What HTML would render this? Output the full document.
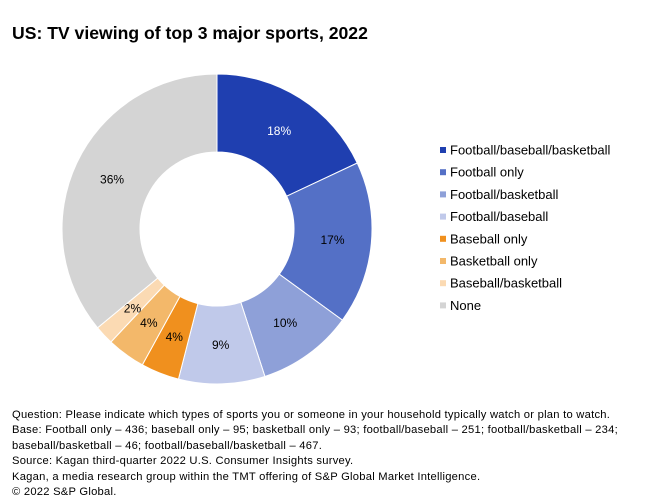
<!DOCTYPE html>
<html><head><meta charset="utf-8"><style>
body{margin:0;background:#fff;font-family:"Liberation Sans",sans-serif;}
#wrap{position:relative;width:660px;height:500px;overflow:hidden;}
.title{position:absolute;left:12px;top:23px;font-size:17.6px;font-weight:bold;color:#000;}
.foot{position:absolute;left:12px;top:408px;font-size:11.2px;letter-spacing:0.25px;line-height:15.4px;color:#000;white-space:nowrap;}
</style></head><body>
<div id="wrap">
<div class="title">US: TV viewing of top 3 major sports, 2022</div>
<svg id="svg" width="660" height="500" style="position:absolute;left:0;top:0"></svg>
<div class="foot">Question: Please indicate which types of sports you or someone in your household typically watch or plan to watch.<br>Base: Football only – 436; baseball only – 95; basketball only – 93; football/baseball – 251; football/basketball – 234;<br>baseball/basketball – 46; football/baseball/basketball – 467.<br>Source: Kagan third-quarter 2022 U.S. Consumer Insights survey.<br>Kagan, a media research group within the TMT offering of S&amp;P Global Market Intelligence.<br>© 2022 S&amp;P Global.</div>
</div>
<script>
const categories=["Football/baseball/basketball","Football only","Football/basketball","Football/baseball","Baseball only","Basketball only","Baseball/basketball","None"];
const values=[18,17,10,9,4,4,2,36];
const labels=["18%","17%","10%","9%","4%","4%","2%","36%"];
const colors=["#1f3fb0","#5470c6","#8ea0d8","#c0c9ea","#f0901e","#f3b86a","#fbdab3","#d4d4d4"];
const svg=document.getElementById('svg');const NS="http://www.w3.org/2000/svg";
const cx=217,cy=229,R=155,r=77,LR=116;
const total=values.reduce((a,b)=>a+b,0);
function pt(a,rad){return [cx+rad*Math.sin(a),cy-rad*Math.cos(a)];}
let acc=0;
values.forEach((v,i)=>{
  const a0=acc/total*2*Math.PI;acc+=v;const a1=acc/total*2*Math.PI;
  const lg=(a1-a0)>Math.PI?1:0;
  const [x0,y0]=pt(a0,R),[x1,y1]=pt(a1,R),[x2,y2]=pt(a1,r),[x3,y3]=pt(a0,r);
  const p=document.createElementNS(NS,'path');
  p.setAttribute('d',`M${x0},${y0}A${R},${R} 0 ${lg} 1 ${x1},${y1}L${x2},${y2}A${r},${r} 0 ${lg} 0 ${x3},${y3}Z`);
  p.setAttribute('fill',colors[i]);p.setAttribute('stroke','#fff');p.setAttribute('stroke-width','1');
  
  
  svg.appendChild(p);
  const [lx,ly]=pt((a0+a1)/2,LR);
  const t=document.createElementNS(NS,'text');
  t.setAttribute('x',lx);t.setAttribute('y',ly+4);t.setAttribute('text-anchor','middle');
  t.setAttribute('font-size','12');t.setAttribute('fill',i===0?'#fff':'#000');
  t.textContent=labels[i];
  
  
  svg.appendChild(t);
  const y=150+i*22.2;
  const s=document.createElementNS(NS,'rect');
  s.setAttribute('x',440);s.setAttribute('y',y-3);s.setAttribute('width',6);s.setAttribute('height',6);s.setAttribute('fill',colors[i]);
  
  
  svg.appendChild(s);
  const lt=document.createElementNS(NS,'text');
  lt.setAttribute('x',450);lt.setAttribute('y',y+4.5);lt.setAttribute('font-size','13');lt.setAttribute('fill','#000');
  lt.textContent=categories[i];
  
  
  svg.appendChild(lt);
});
</script>
</body></html>
